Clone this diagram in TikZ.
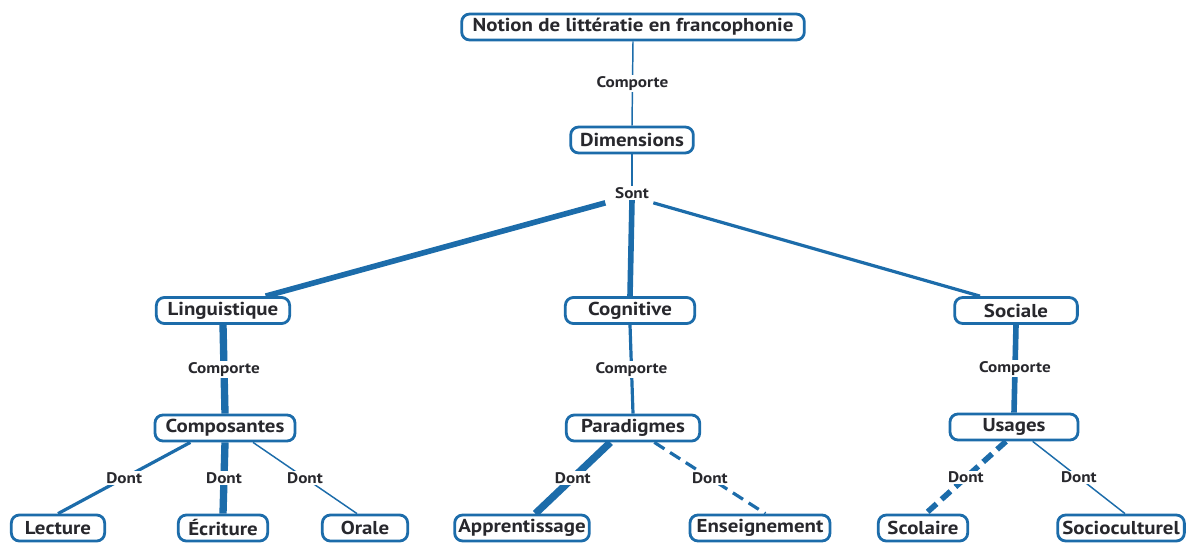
\documentclass[tikz,border=0pt]{standalone}
\usepackage{fontspec}
\setmainfont{PT Sans}[FakeStretch=1.12]
\usetikzlibrary{calc}
\pgfdeclarelayer{bg}
\pgfsetlayers{bg,main}
\definecolor{cblue}{RGB}{28,108,170}
\definecolor{ctext}{RGB}{40,40,45}
\tikzset{
  concept/.style={draw=cblue, line width=2.1pt, rounded corners=6pt, fill=white,
    minimum height=19.5pt, inner sep=1pt, text=ctext, font=\bfseries\fontsize{14}{15}\selectfont},
  lbl/.style={fill=white, inner sep=1pt, text=ctext, font=\bfseries\fontsize{11.5}{12}\selectfont},
  link/.style={draw=cblue},
  thin/.style={link, line width=1.1pt},
  mid/.style={link, line width=2.4pt},
  thick/.style={link, line width=4.2pt},
  heavy/.style={link, line width=5.5pt},
  dash1/.style={dash pattern=on 9pt off 5pt},
}
\begin{document}
\begin{tikzpicture}[x=0.75pt,y=-0.75pt]
\useasboundingbox (0,0) rectangle (1198,542);
% nodes
\node[concept, minimum width=257pt] (notion) at (633,27) {Notion de littératie en francophonie};
\node[concept, minimum width=92pt] (dim) at (632,140) {Dimensions};
\node[concept, minimum width=100pt] (ling) at (223,310.5) {Linguistique};
\node[concept, minimum width=97pt] (cog) at (630,310.5) {Cognitive};
\node[concept, minimum width=92pt] (soc) at (1016,310.5) {Sociale};
\node[concept, minimum width=105pt] (comp) at (225,428) {Composantes};
\node[concept, minimum width=100pt] (para) at (633,428) {Paradigmes};
\node[concept, minimum width=96pt] (usa) at (1014,427) {Usages};
\node[concept, minimum width=70pt] (lect) at (58,528) {Lecture};
\node[concept, minimum width=67pt] (ecr) at (223,528) {Écriture};
\node[concept, minimum width=64pt] (orale) at (365,528) {Orale};
\node[concept, minimum width=101pt] (app) at (522,528) {Apprentissage};
\node[concept, minimum width=105pt] (ens) at (760,528) {Enseignement};
\node[concept, minimum width=67pt] (scol) at (923,528) {Scolaire};
\node[concept, minimum width=95pt] (socio) at (1121,528) {Socioculturel};
\node[lbl] (sont) at (632,193) {Sont};
% connectors
\begin{pgfonlayer}{bg}
\path[thin] (notion.south) -- node[lbl]{Comporte} (dim.north);
\path[thin] (dim.south) -- (sont.north);
\path[thick] ([xshift=-20pt,yshift=-2pt]sont.south) -- ([xshift=32pt]ling.north);
\path[thick] (sont.south) -- (cog.north);
\path[mid] ([xshift=16pt,yshift=-2pt]sont.south) -- ([xshift=-27pt]soc.north);
\path[heavy] (ling.south) -- node[lbl]{Comporte} (comp.north);
\path[mid] (cog.south) -- node[lbl]{Comporte} (para.north);
\path[thick] (soc.south) -- node[lbl]{Comporte} (usa.north);
\path[mid] ([xshift=-26pt]comp.south) -- node[lbl]{Dont} (lect.north);
\path[heavy] (comp.south) -- node[lbl]{Dont} (ecr.north);
\path[thin] ([xshift=21pt]comp.south) -- node[lbl]{Dont} ([xshift=-6pt]orale.north);
\path[heavy] ([xshift=-17pt]para.south) -- node[lbl]{Dont} ([xshift=10pt]app.north);
\path[mid, dash1] ([xshift=16pt]para.south) -- node[lbl]{Dont} ([xshift=4pt]ens.north);
\path[thick, dash1] ([xshift=-6pt]usa.south) -- node[lbl]{Dont} ([xshift=2pt]scol.north);
\path[thin] ([xshift=14pt]usa.south) -- node[lbl]{Dont} ([xshift=3pt]socio.north);
\end{pgfonlayer}
\end{tikzpicture}
\end{document}
